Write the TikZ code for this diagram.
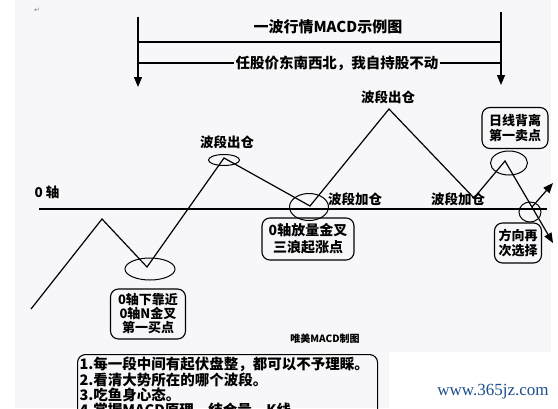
\documentclass[tikz,border=0pt]{standalone}
\usepackage{fontspec}
\setmainfont{Noto Sans CJK SC}
\newfontfamily\symfont{DejaVu Sans}
\newfontfamily\urlfont{Liberation Serif}
\usetikzlibrary{arrows.meta, shapes.geometric}
\definecolor{paper}{HTML}{F7F7FA}
\definecolor{urlblue}{HTML}{1C4F8C}

\tikzset{
  wave/.style={line width=1.2pt, line join=miter},
  ring/.style={draw, ellipse, line width=1pt, inner sep=0pt},
  tag/.style={draw, rounded corners=8pt, line width=1.1pt, align=center,
    font=\bfseries\fontsize{13}{15.5}\selectfont, inner sep=2pt},
  lbl/.style={font=\bfseries\fontsize{13.5}{16}\selectfont, inner sep=1pt},
  bigarrow/.style={line width=1.2pt, -{Triangle[length=10pt,width=8pt]}},
}

\begin{document}
\begin{tikzpicture}[x=1pt, y=-1pt]
  \useasboundingbox (0,0) rectangle (558,408);
  \clip (0,0) rectangle (558,408);
  % sheet
  \fill[white] (0,0) rectangle (558,408);
  \fill[paper] (15,0) rectangle (551,408);
  \fill[white] (389,352) rectangle (551,408);
  \node[font=\symfont\fontsize{7}{7}\selectfont, text=gray] (mark) at (37,10) {↵};

  % header arrows and lines
  \coordinate (la) at (138,17);
  \coordinate (lb) at (138,87);
  \coordinate (ra) at (501,12);
  \coordinate (rb) at (501,85);
  \draw[bigarrow] (la) -- (lb);
  \draw[bigarrow] (ra) -- (rb);
  \node[lbl, font=\bfseries\fontsize{15}{16}\selectfont] (title) at (328,27) {一波行情MACD示例图};
  \coordinate (t1) at (138,42);
  \coordinate (t2) at (501,42);
  \draw[line width=1.2pt] (t1) -- (t2);
  \node[lbl, font=\bfseries\fontsize{14.5}{16}\selectfont] (motto) at (337,63) {任股价东南西北，我自持股不动};
  \coordinate (m1) at (138,63);
  \coordinate (m2) at (501,63);
  \draw[line width=1.2pt] (m1) -- (motto.west);
  \draw[line width=1.2pt] (motto.east) -- (m2);

  % zero axis
  \coordinate (z0) at (39,209);
  \coordinate (z1) at (547,209);
  \draw[line width=1.2pt] (z0) -- (z1);
  \node[lbl] (zero) at (47,192) {0 轴};

  % the wave
  \coordinate (p0) at (31,309);
  \coordinate (p1) at (102,219);
  \coordinate (p2) at (147,267);
  \coordinate (p3) at (224,158);
  \coordinate (p4) at (310,206);
  \coordinate (p5) at (389,109);
  \coordinate (p6) at (474,198);
  \coordinate (p7) at (505,161);
  \coordinate (p8) at (553,243);
  \coordinate (q0) at (532,207);
  \coordinate (q1) at (553,183);
  \draw[wave, -{Triangle[length=10pt,width=8pt]}]
    (p0) -- (p1) -- (p2) -- (p3) -- (p4) -- (p5) -- (p6) -- (p7) -- (p8);
  \draw[wave, -{Triangle[length=10pt,width=8pt]}] (q0) -- (q1);

  % rings
  \node[ring, minimum width=50pt, minimum height=22pt] (r1) at (150,269) {};
  \node[ring, minimum width=31pt, minimum height=11pt] (r2) at (224,160) {};
  \node[ring, minimum width=39pt, minimum height=27pt] (r3) at (309,207) {};
  \node[ring, minimum width=37pt, minimum height=24pt] (r4) at (509,163) {};
  \node[ring, minimum width=22pt, minimum height=20pt] (r5) at (530,212) {};

  % labels
  \node[lbl] (out1) at (227,142) {波段出仓};
  \node[lbl] (out2) at (388,97) {波段出仓};
  \node[lbl] (add1) at (355,199) {波段加仓};
  \node[lbl] (add2) at (458,199) {波段加仓};

  % tags
  \node[tag, font=\bfseries\fontsize{13}{14}\selectfont, minimum width=75pt, minimum height=50pt] (buy) at (148,314) {0轴下靠近\\0轴N金叉\\第一买点};
  \node[tag, font=\bfseries\fontsize{14}{17}\selectfont, minimum width=92pt, minimum height=42pt] (cross) at (308,239) {0轴放量金叉\\三浪起涨点};
  \node[tag, minimum width=66pt, minimum height=41pt] (sell) at (515,128) {日线背离\\第一卖点};
  \node[tag, minimum width=47pt, minimum height=40pt] (turn) at (518,243) {方向再\\次选择};

  % notes
  \node[font=\bfseries\fontsize{10}{10}\selectfont] (maker) at (325,339) {唯美MACD制图};
  \node[tag, anchor=north west, align=left, text width=296pt, inner sep=2pt,
    font=\bfseries\fontsize{14.5}{13.5}\selectfont] (notes) at (77,354)
    {1.每一段中间有起伏盘整，都可以不予理睬。\\2.看清大势所在的哪个波段。\\3.吃鱼身心态。\\4.掌握MACD原理，结合量、K线};
  \node[font=\urlfont\fontsize{17}{17}\selectfont, text=urlblue] (site) at (493,392) {www.365jz.com};
\end{tikzpicture}
\end{document}
